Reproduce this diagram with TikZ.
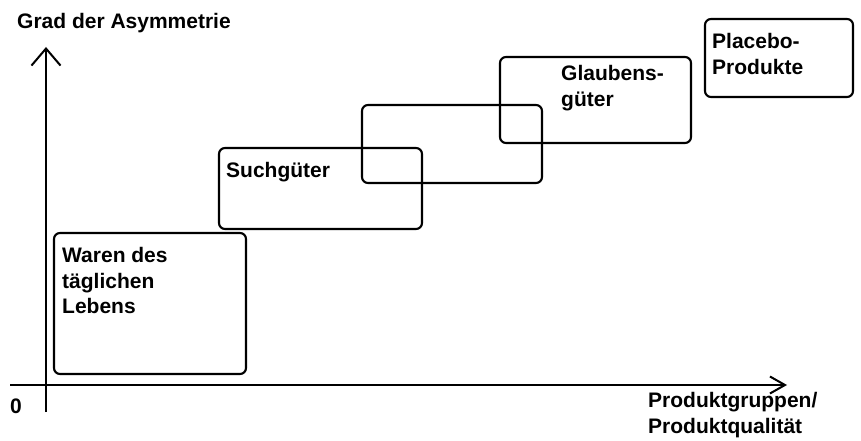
\documentclass[tikz,border=0pt]{standalone}
\usepackage{fontspec}
\setmainfont{Liberation Sans}
\usetikzlibrary{arrows.meta}
\begin{document}
\begin{tikzpicture}[
  x=1pt,y=-1pt,
  gut/.style={draw,rounded corners=6pt,line width=2.1pt,inner sep=0pt},
  txt/.style={anchor=north west,inner sep=0pt,align=left,
    font=\fontsize{21}{25.5}\selectfont\bfseries},
  axis/.style={line width=2pt}
]
  \useasboundingbox (0,0) rectangle (861,441);

  % axes
  \coordinate (ybot) at (46,412);
  \coordinate (ytop) at (46,47);
  \coordinate (xl) at (10,385);
  \coordinate (xr) at (787,385);
  \draw[axis,-{Straight Barb[length=17pt,width=29pt]}] (ybot) -- (ytop);
  \draw[axis,-{Straight Barb[length=15pt,width=17pt]}] (xl) -- (xr);

  \node[txt] (ylab) at (17,13.5) {Grad der Asymmetrie};
  \node[txt] (xlab) at (648,392.5) {Produktgruppen/\\Produktqualität};
  \node[txt] (null) at (10,398.5) {0};

  % product groups
  \node[gut,minimum width=192pt,minimum height=141pt] (waren) at (150,303.5) {};
  \node[gut,minimum width=203pt,minimum height=81pt] (such) at (320.5,188.5) {};
  \node[gut,minimum width=180pt,minimum height=78pt] (erfahr) at (452,144) {};
  \node[gut,minimum width=191pt,minimum height=86pt] (glaub) at (595.5,100) {};
  \node[gut,minimum width=148pt,minimum height=78pt] (placebo) at (779,58) {};

  \node[txt] (waren-t) at (62,247.5) {Waren des\\täglichen\\Lebens};
  \node[txt] (such-t) at (226,162.5) {Suchgüter};
  \node[txt] (glaub-t) at (561,65.5) {Glaubens-\\güter};
  \node[txt] (placebo-t) at (712,33.5) {Placebo-\\Produkte};
\end{tikzpicture}
\end{document}
